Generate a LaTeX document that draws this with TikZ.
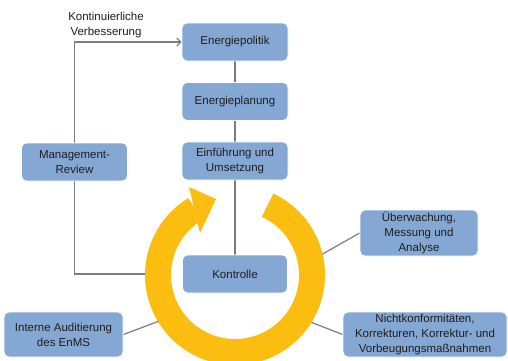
\documentclass[tikz,border=0pt]{standalone}
\usepackage{fontspec}
\setmainfont{Liberation Sans}
\usetikzlibrary{arrows.meta,backgrounds}
\definecolor{boxblue}{RGB}{133,167,211}
\definecolor{ringyellow}{RGB}{251,190,16}
\definecolor{linegray}{RGB}{125,125,125}
\definecolor{txt}{RGB}{30,30,30}
\begin{document}
\begin{tikzpicture}[x=1pt,y=1pt,
  box/.style={draw=white, line width=0.8pt, fill=boxblue, rounded corners=5pt,
    align=center, font=\fontsize{11.5}{15}\selectfont, text=txt, inner sep=0pt},
  conn/.style={draw=linegray, line width=1.2pt},
  lbl/.style={align=center, font=\fontsize{11.5}{15}\selectfont, text=txt, inner sep=0pt}]
\useasboundingbox (0,0) rectangle (508,360);
\node[box, minimum width=106pt, minimum height=38pt] (ep) at (235,318) {Energiepolitik};
\node[box, minimum width=106pt, minimum height=38pt] (pl) at (235,258.5) {Energieplanung};
\node[box, minimum width=106pt, minimum height=38pt] (eu) at (235,199) {Einführung und\\Umsetzung};
\node[box, minimum width=106pt, minimum height=38pt] (mr) at (74.5,198) {Management-\\Review};
\node[box, minimum width=105pt, minimum height=38pt] (ko) at (235,86) {Kontrolle};
\node[box, minimum width=118pt, minimum height=46pt] (ue) at (419,127) {Überwachung,\\Messung und\\Analyse};
\node[box, minimum width=164pt, minimum height=45pt] (nk) at (425,25.5) {Nichtkonformitäten,\\Korrekturen, Korrektur- und\\Vorbeugungsmaßnahmen};
\node[box, minimum width=119pt, minimum height=45pt] (ia) at (63.5,25.5) {Interne Auditierung\\des EnMS};
\node[lbl] (kv) at (106,335) {Kontinuierliche\\Verbesserung};
\coordinate (ctr) at (235,85);
\coordinate (mrend) at (152,86);
\coordinate (ueend) at (320,104.5);
\coordinate (nkend) at (308,39);
\coordinate (iaend) at (162,40);
\begin{scope}[on background layer]
  \draw[conn] (ep) -- (pl);
  \draw[conn] (pl) -- (eu);
  \draw[conn] (eu) -- (ko);
  \draw[conn, -{Straight Barb[length=4pt,width=8pt]}] (mr.north) |- (ep.west);
  \draw[conn] (mrend) -| (mr.south);
  \draw[conn] (ue.west) -- (ueend);
  \draw[conn] (nk.west) -- (nkend);
  \draw[conn] (ia.east) -- (iaend);
  \draw[ringyellow, line width=26pt] (ctr) ++(65:77) arc[start angle=65, end angle=-239, radius=77];
  \fill[ringyellow] (189,173) -- (216,161) -- (200,127) -- cycle;
\end{scope}
\end{tikzpicture}
\end{document}
